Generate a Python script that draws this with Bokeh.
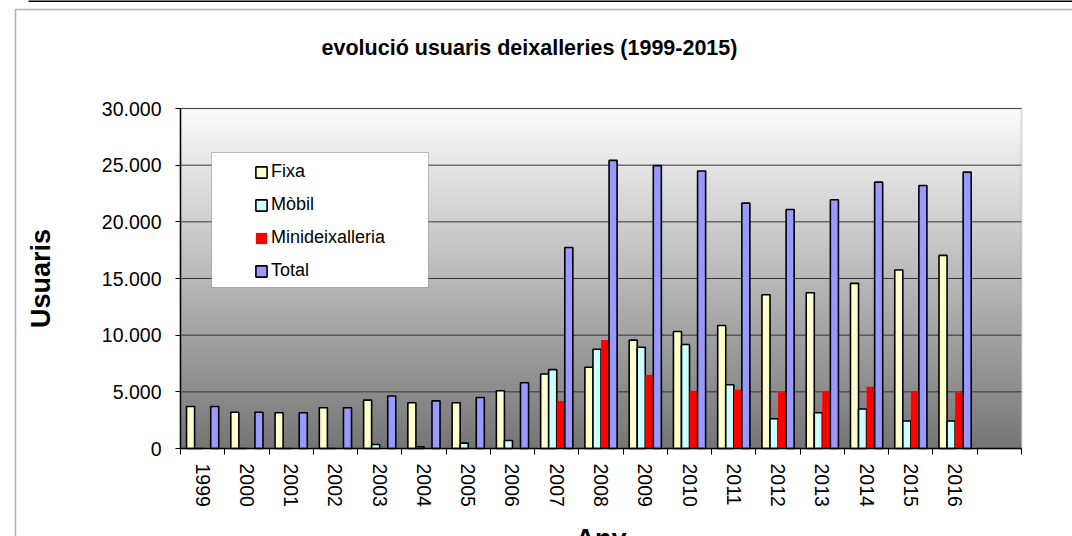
import numpy as np
from bokeh.plotting import figure
from bokeh.models import (Range1d, LinearAxis, FixedTicker, Legend, LegendItem,
                          BoxAnnotation, Label, ColumnDataSource)
from bokeh.transform import dodge
from bokeh.embed import file_html
from bokeh.resources import INLINE

# ---------------- data ----------------
years = [str(y) for y in range(1999, 2017)]
fixa = [3700, 3200, 3150, 3600, 4270, 4040, 4040, 5100, 6570, 7170,
        9560, 10320, 10850, 13570, 13740, 14570, 15750, 17040]
mobil = [0, 0, 0, 0, 350, 150, 470, 700, 6960, 8760,
         8940, 9170, 5630, 2620, 3150, 3480, 2420, 2420]
mini = [0, 0, 0, 0, 0, 0, 0, 0, 4200, 9580,
        6490, 5070, 5190, 4960, 5070, 5450, 5070, 4960]
total = [3700, 3200, 3150, 3600, 4630, 4200, 4500, 5800, 17730, 25420,
         24960, 24480, 21650, 21090, 21950, 23500, 23200, 24390]
series_keys = ["fixa", "mobil", "mini", "total"]
series_names = ["Fixa", "Mòbil", "Minideixalleria", "Total"]
series_colors = ["#FFFFCC", "#CCFFFF", "#FF0000", "#9999FF"]
y_ticks = [0, 5000, 10000, 15000, 20000, 25000, 30000]
y_tick_labels = ["0", "5.000", "10.000", "15.000", "20.000", "25.000", "30.000"]
title_text = "evolució usuaris deixalleries (1999-2015)"
x_title = "Any"
y_title = "Usuaris"

FONT = "Liberation Sans"
W, H = 1072, 536
# plot-area placement on the canvas (pixels)
PL, PR, PT, PB = 180, 1021, 108, 448

n_slots = len(years) + 1          # one empty slot after the last year
ymin, ymax = y_ticks[0], y_ticks[-1]
sx = (PR - PL) / n_slots
sy = (PB - PT) / (ymax - ymin)
x_range = Range1d(-PL / sx, n_slots + (W - PR) / sx)
y_range = Range1d(ymin - (H - PB) / sy, ymax + PT / sy)

src = ColumnDataSource(dict(xc=[i + 0.5 for i in range(len(years))], year=years,
                            fixa=fixa, mobil=mobil, mini=mini, total=total))

p = figure(width=W, height=H, output_backend="svg", toolbar_location=None,
           x_range=x_range, y_range=y_range,
           x_axis_location=None, y_axis_location=None,
           min_border=0, min_border_left=0, min_border_right=0,
           min_border_top=0, min_border_bottom=0)
p.background_fill_color = "white"
p.border_fill_color = "white"
p.outline_line_color = None
p.xgrid.grid_line_color = None
p.ygrid.grid_line_color = None

# gradient background of the plot area
n = 340
img = np.zeros((n, 1, 4), dtype=np.uint8)
g = np.linspace(118, 252, n).astype(np.uint8)
img[:, 0, 0] = g
img[:, 0, 1] = g
img[:, 0, 2] = g
img[:, 0, 3] = 255
img32 = img.view(dtype=np.uint32).reshape((n, 1))
p.image_rgba(image=[img32], x=0, y=ymin, dw=n_slots, dh=ymax - ymin, level="image")

# horizontal grid lines
p.segment(x0=[0] * (len(y_ticks) - 1), x1=[n_slots] * (len(y_ticks) - 1),
          y0=y_ticks[1:], y1=y_ticks[1:], line_color="#333333", line_width=1, level="underlay")

# plot area border (gray)
p.add_layout(BoxAnnotation(left=0, right=n_slots, bottom=ymin, top=ymax, fill_alpha=0,
                           line_color="#8a8a8a", line_width=2, level="underlay"))

# bars
bw = 1 / 5.5
renderers = []
for i, (k, c) in enumerate(zip(series_keys, series_colors)):
    off = (i - 1.5) * bw
    r = p.vbar(x=dodge("xc", off), top=k, width=bw, source=src,
               fill_color=c, line_color=None if k == "mini" else "black", line_width=1.6)
    renderers.append(r)

# y axis
ya = LinearAxis(fixed_location=0, bounds=(ymin, ymax), ticker=FixedTicker(ticks=y_ticks),
                major_label_overrides=dict(zip(y_ticks, y_tick_labels)),
                major_tick_out=5, major_tick_in=0, minor_tick_line_color=None,
                axis_line_color="black", axis_line_width=1.5, major_tick_line_color="black",
                major_label_text_font=FONT, major_label_text_font_size="19.5px",
                major_label_text_color="black", major_label_standoff=14,
                axis_label=y_title, axis_label_text_font=FONT, axis_label_text_font_size="27px",
                axis_label_text_font_style="bold", axis_label_text_color="black",
                axis_label_standoff=43)
p.add_layout(ya, "left")

# x axis: tick marks at slot boundaries (no labels)
tick_axis = LinearAxis(fixed_location=ymin, bounds=(0, n_slots),
                       ticker=FixedTicker(ticks=list(range(n_slots + 1))),
                       major_tick_out=6, major_tick_in=0, minor_tick_line_color=None,
                       major_label_text_color=None, major_label_text_alpha=0,
                       major_label_standoff=0,
                       axis_line_color="black", axis_line_width=1.5, major_tick_line_color="black")
p.add_layout(tick_axis, "below")
# x axis: year labels at slot centres
label_axis = LinearAxis(fixed_location=ymin, ticker=FixedTicker(ticks=src.data["xc"]),
                        major_label_overrides=dict(zip(src.data["xc"], years)),
                        axis_line_color=None, major_tick_line_color=None, major_tick_out=0,
                        major_tick_in=0, minor_tick_line_color=None,
                        major_label_orientation="vertical", major_label_standoff=15,
                        major_label_text_font=FONT, major_label_text_font_size="19.5px",
                        major_label_text_color="black")
p.add_layout(label_axis, "below")

# chart-area decorations (screen units = canvas pixels, y measured from the bottom)
p.add_layout(BoxAnnotation(left=15, right=W + 50, top=H - 9, bottom=-50,
                           left_units="screen", right_units="screen", top_units="screen",
                           bottom_units="screen", fill_alpha=0, line_color="black", line_width=1.5))
p.add_layout(BoxAnnotation(left=28, right=W + 50, top=H + 1, bottom=H - 1.5,
                           left_units="screen", right_units="screen", top_units="screen",
                           bottom_units="screen", fill_color="black", fill_alpha=1, line_color=None))

# legend box + legend
p.add_layout(BoxAnnotation(left=211, right=428, top=H - 152, bottom=H - 287,
                           left_units="screen", right_units="screen", top_units="screen",
                           bottom_units="screen", fill_color="white", fill_alpha=1,
                           line_color="#333333", line_width=1))
legend = Legend(items=[LegendItem(label=nm, renderers=[r]) for nm, r in zip(series_names, renderers)],
                location=(249, H - 286), padding=5, spacing=12, glyph_width=14, glyph_height=14,
                label_height=20, label_standoff=3, label_text_font=FONT, label_text_font_size="18px",
                label_text_color="black", background_fill_alpha=0, border_line_alpha=0, margin=0)
p.add_layout(legend)

# titles
p.add_layout(Label(x=529, y=H - 47, x_units="screen", y_units="screen", text=title_text,
                   text_align="center", text_baseline="alphabetic", text_font=FONT,
                   text_font_size="21.5px", text_font_style="bold", text_color="black"))
p.add_layout(Label(x=(PL + PR) / 2, y=H - 523, x_units="screen", y_units="screen", text=x_title,
                   text_align="center", text_baseline="top", text_font=FONT,
                   text_font_size="27px", text_font_style="bold", text_color="black"))

open("out.html", "w").write(file_html(p, INLINE))
